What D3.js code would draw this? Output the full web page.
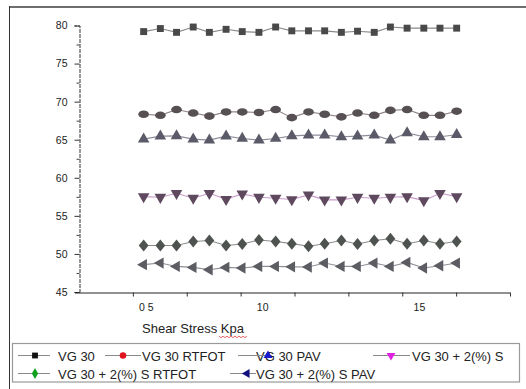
<!DOCTYPE html>
<html>
<head>
<meta charset="utf-8">
<script src="https://cdn.jsdelivr.net/npm/d3@7"></script>
<style>
  html, body { margin: 0; padding: 0; background: #fff; }
  svg { display: block; font-family: Arial, "Liberation Sans", sans-serif; }
</style>
</head>
<body>
<svg id="chart" width="526" height="389"></svg>
<script>
// ---------- data ----------
const seriesNames = ["VG 30", "VG 30 RTFOT", "VG 30 PAV", "VG 30 + 2(%) S", "VG 30 + 2(%) S RTFOT", "VG 30 + 2(%) S PAV"];
const xValues = [1.20, 1.51, 1.81, 2.12, 2.42, 2.73, 3.03, 3.34, 3.65, 3.95, 4.26, 4.56, 4.87, 5.17, 5.48, 5.78, 6.09, 6.40, 6.70, 7.01];
const vg30 =        [79.2, 79.6, 79.1, 79.8, 79.1, 79.5, 79.2, 79.1, 79.8, 79.3, 79.3, 79.3, 79.1, 79.25, 79.1, 79.8, 79.65, 79.65, 79.65, 79.65];
const vg30Rtfot =   [68.35, 68.2, 68.96, 68.5, 68.1, 68.65, 68.65, 68.57, 68.96, 67.9, 68.65, 68.35, 68.0, 68.5, 68.2, 68.85, 68.96, 68.2, 68.2, 68.75];
const vg30Pav =     [65.08, 65.47, 65.5, 65.08, 64.95, 65.47, 65.16, 64.95, 65.16, 65.5, 65.6, 65.6, 65.38, 65.47, 65.6, 64.95, 65.9, 65.38, 65.38, 65.65];
const vg30S =       [57.53, 57.45, 57.97, 57.32, 57.97, 57.18, 57.88, 57.45, 57.32, 57.15, 57.75, 57.1, 57.1, 57.45, 57.32, 57.45, 57.53, 57.0, 57.97, 57.53];
const vg30SRtfot =  [51.1, 51.1, 51.1, 51.64, 51.77, 51.1, 51.3, 51.83, 51.64, 51.35, 51.0, 51.34, 51.77, 51.3, 51.77, 51.99, 51.34, 51.77, 51.34, 51.64];
const vg30SPav =    [48.59, 48.8, 48.36, 48.23, 47.93, 48.23, 48.15, 48.36, 48.36, 48.3, 48.28, 48.8, 48.36, 48.36, 48.8, 48.36, 48.89, 48.15, 48.45, 48.8];
const yTicks = [45, 50, 55, 60, 65, 70, 75, 80];
const yMinorTicks = [47.5, 52.5, 57.5, 62.5, 67.5, 72.5, 77.5];
const xTickMarks = [1, 2, 3, 4, 5, 6, 7, 8];
const xLabelValues = [1.24, 3.40, 6.31];
const xLabelTexts = ["0 5", "10", "15"];
const xTitle = "Shear Stress Kpa";

// ---------- styles ----------
const allSeries = [vg30, vg30Rtfot, vg30Pav, vg30S, vg30SRtfot, vg30SPav];
const symbols = [d3.symbolSquare, d3.symbolCircle, d3.symbolTriangle, "down", d3.symbolDiamond, "left"];
const legendColors = ["#111111", "#e0141e", "#1a1ad0", "#e020e0", "#10a020", "#101080"];
const plotColors = ["#4a4a4a", "#565052", "#5a5a68", "#5e485e", "#4f534f", "#5c5c64"];
const lineColors = ["#8a8a8a", "#8f8486", "#8d8d9a", "#c99ac9", "#8a8e8a", "#8f8f96"];
const markerSizes = [48, 62, 58, 58, 58, 56];

const svg = d3.select("#chart");

// frame
svg.append("line").attr("x1", 9).attr("x2", 526).attr("y1", 7).attr("y2", 7)
  .attr("stroke", "#6e6e6e").attr("stroke-width", 2);
svg.append("line").attr("x1", 9.5).attr("x2", 9.5).attr("y1", 6).attr("y2", 389)
  .attr("stroke", "#333").attr("stroke-width", 1);

// scales
const x = d3.scaleLinear().domain([0, 8]).range([79, 510]);
const y = d3.scaleLinear().domain([45, 80]).range([292, 25.5]);

// y axis
const yAxis = svg.append("g").attr("transform", "translate(79.5,0)")
  .call(d3.axisLeft(y).tickValues(yTicks).tickSize(5).tickPadding(7).tickFormat(d3.format("d")));
yAxis.select(".domain").attr("stroke", "#333").attr("stroke-dasharray", "4,1");
yAxis.selectAll(".tick line").attr("stroke", "#333");
yAxis.selectAll("text").attr("font-size", 10.5).attr("fill", "#222")
  .attr("font-family", "Arial, 'Liberation Sans', sans-serif");
const yMinor = svg.append("g").attr("transform", "translate(79.5,0)")
  .call(d3.axisLeft(y).tickValues(yMinorTicks).tickSize(3).tickFormat(""));
yMinor.select(".domain").remove();
yMinor.selectAll(".tick line").attr("stroke", "#444");

// x axis
const xAxis = svg.append("g").attr("transform", "translate(0,292.5)")
  .call(d3.axisBottom(x).tickValues(xTickMarks).tickSize(4).tickSizeOuter(0).tickFormat(""));
xAxis.select(".domain").attr("stroke", "#222").attr("d", "M75,0.5H510");
xAxis.selectAll(".tick line").attr("stroke", "#333");
const xLab = svg.append("g").attr("transform", "translate(0,292.5)")
  .call(d3.axisBottom(x).tickValues(xLabelValues).tickSize(0).tickPadding(11)
    .tickFormat((d, i) => xLabelTexts[i]));
xLab.select(".domain").remove();
xLab.selectAll("text").attr("font-size", 10.5).attr("fill", "#222")
  .attr("font-family", "Arial, 'Liberation Sans', sans-serif");

// x title
svg.append("text").attr("x", 142).attr("y", 332.5).attr("font-size", 13).attr("fill", "#222")
  .text(xTitle);
// spell-check squiggle under "Kpa"
const squig = d3.range(0, 15).map(i => [219 + i * 2, 336.5 + (i % 2 ? 1.2 : -0.3)]);
svg.append("path").attr("d", d3.line()(squig)).attr("fill", "none")
  .attr("stroke", "#e04040").attr("stroke-width", 0.8);

// marker helper
function markerPath(sym, size) {
  if (sym === "down") return { d: d3.symbol(d3.symbolTriangle, size)(), rot: 180 };
  if (sym === "left") return { d: d3.symbol(d3.symbolTriangle, size)(), rot: -90 };
  return { d: d3.symbol(sym, size)(), rot: 0 };
}

// blur filter to mimic soft picture
const defs = svg.append("defs");
defs.append("filter").attr("id", "soft").attr("x", "-20%").attr("y", "-20%")
  .attr("width", "140%").attr("height", "140%")
  .append("feGaussianBlur").attr("stdDeviation", 0.6);

const plot = svg.append("g").attr("filter", "url(#soft)");
const line = d3.line().x((d, i) => x(xValues[i])).y(d => y(d));

allSeries.forEach((vals, s) => {
  plot.append("path").datum(vals).attr("d", line).attr("fill", "none")
    .attr("stroke", lineColors[s]).attr("stroke-width", 1.1);
  const mp = markerPath(symbols[s], markerSizes[s]);
  plot.selectAll(".m" + s).data(vals).enter().append("path")
    .attr("d", mp.d)
    .attr("transform", (d, i) => `translate(${x(xValues[i])},${y(d)}) rotate(${mp.rot}) ${s === 1 || s === 4 ? "scale(1.2,0.85)" : ""}`)
    .attr("fill", plotColors[s]);
});

// legend
const lg = svg.append("g");
lg.append("rect").attr("x", 12.5).attr("y", 343.5).attr("width", 507).attr("height", 38.5)
  .attr("fill", "#fff").attr("stroke", "#9a9a9a").attr("stroke-width", 1.2);

const legendItems = [
  { s: 0, x1: 18, x2: 50, mx: 35, tx: 58, row: 0 },
  { s: 1, x1: 105, x2: 141, mx: 123, tx: 142, row: 0 },
  { s: 2, x1: 238, x2: 272, mx: 268, tx: 256, row: 0 },
  { s: 3, x1: 373, x2: 410, mx: 391, tx: 412, row: 0 },
  { s: 4, x1: 18, x2: 50, mx: 35, tx: 58, row: 1 },
  { s: 5, x1: 230, x2: 256, mx: 247, tx: 256, row: 1 }
];
const rowY = [355.5, 373.5];
const rowBase = [360.5, 379];
legendItems.forEach(it => {
  const cy = rowY[it.row];
  lg.append("text").attr("x", it.tx).attr("y", rowBase[it.row]).attr("font-size", 13)
    .attr("fill", "#222").text(seriesNames[it.s]);
  lg.append("line").attr("x1", it.x1).attr("x2", it.x2).attr("y1", cy).attr("y2", cy)
    .attr("stroke", "#8a8a8a").attr("stroke-width", 1);
  const mp = markerPath(symbols[it.s], 34);
  lg.append("path").attr("d", mp.d)
    .attr("transform", `translate(${it.mx},${cy}) rotate(${mp.rot})`)
    .attr("fill", legendColors[it.s]);
});
</script>
</body>
</html>
